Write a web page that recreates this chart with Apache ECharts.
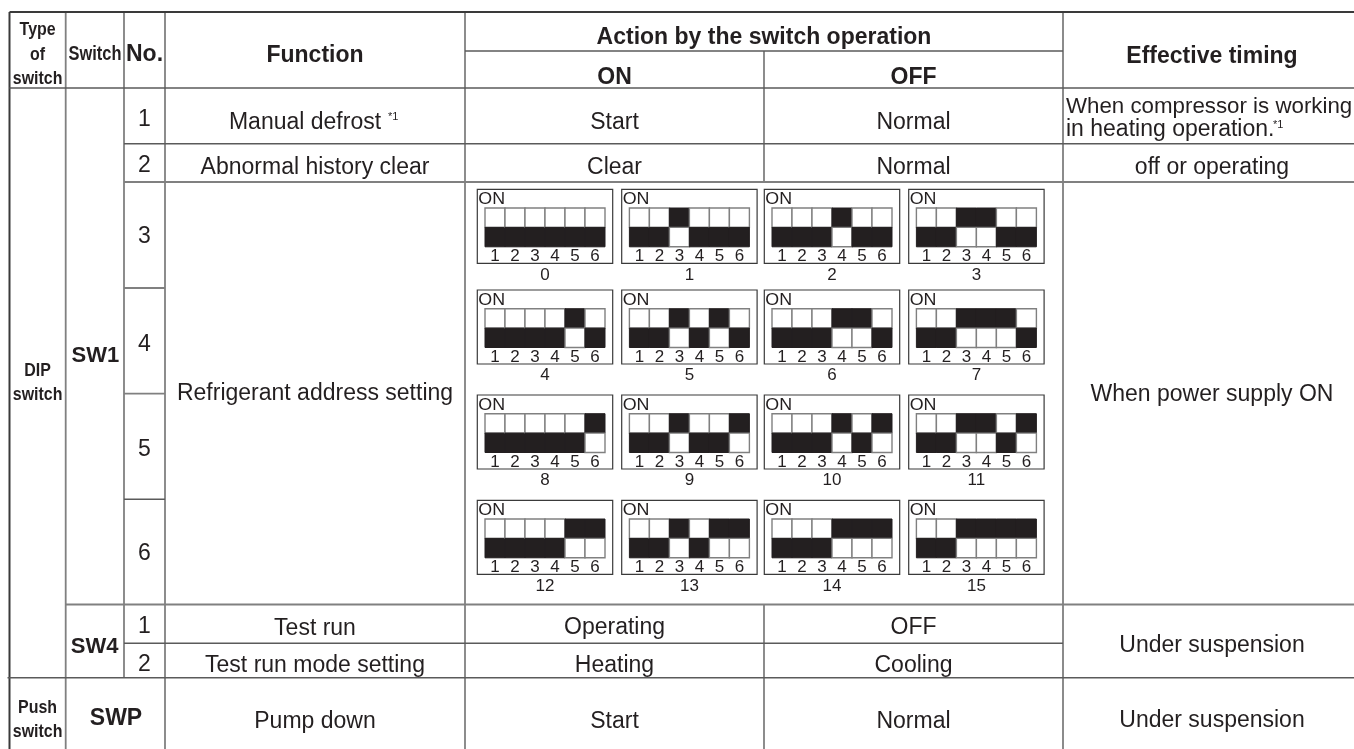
<!DOCTYPE html>
<html>
<head>
<meta charset="utf-8">
<title>Switch table</title>
<script src="https://cdn.jsdelivr.net/npm/echarts@6/dist/echarts.min.js"></script>
<style>
  html, body { margin: 0; padding: 0; background: #fff; }
  #chart { width: 1354px; height: 749px; }
</style>
</head>
<body>
<div id="chart"></div>
<script>
// table content
const typeOfSwitchHead = ['Type', 'of', 'switch']
const dipTypeLabel = ['DIP', 'switch']
const pushTypeLabel = ['Push', 'switch']
const switchNames = ['SW1', 'SW4', 'SWP']
const switchNumbers = ['1', '2', '3', '4', '5', '6', '1', '2']
const functionLabels = ['Manual defrost', 'Abnormal history clear', 'Refrigerant address setting', 'Test run', 'Test run mode setting', 'Pump down']
const onLabels = ['Start', 'Clear', 'Operating', 'Heating', 'Start']
const offLabels = ['Normal', 'Normal', 'OFF', 'Cooling', 'Normal']
const timingLabels = ['off or operating', 'When power supply ON', 'Under suspension', 'Under suspension']
const timingNote = ['When compressor is working', 'in heating operation.']
const footnoteMark = '*1'

// refrigerant address -> position of DIP switches 1..6 (1 = lever up)
const addressLabels = ['0', '1', '2', '3', '4', '5', '6', '7', '8', '9', '10', '11', '12', '13', '14', '15']
const addressSwitches = [
  [0, 0, 0, 0, 0, 0], [0, 0, 1, 0, 0, 0], [0, 0, 0, 1, 0, 0], [0, 0, 1, 1, 0, 0],
  [0, 0, 0, 0, 1, 0], [0, 0, 1, 0, 1, 0], [0, 0, 0, 1, 1, 0], [0, 0, 1, 1, 1, 0],
  [0, 0, 0, 0, 0, 1], [0, 0, 1, 0, 0, 1], [0, 0, 0, 1, 0, 1], [0, 0, 1, 1, 0, 1],
  [0, 0, 0, 0, 1, 1], [0, 0, 1, 0, 1, 1], [0, 0, 0, 1, 1, 1], [0, 0, 1, 1, 1, 1]
]
const switchDigits = ['1', '2', '3', '4', '5', '6']

// table grid, in axis units
const X = {left: 9.5, type: 65.7, sw: 124, no: 165, fn: 465, on: 764, off: 1063, right: 1354, timing: 1212}
const Y = {top: 12, sub: 51, head: 88, r1: 143.7, r2: 182, r3: 288, r4: 393.7, r5: 499.3, r6: 604.5, r7: 643.3, r8: 677.7, bottom: 749}
const boxLeft = [477.3, 621.7, 764.3, 908.7]
const boxTop = [189.3, 290, 395, 500.3]

const INK = '#231f20'
const FONT = '"Liberation Sans", Arial, sans-serif'
const TEXT_SHIFT = 1.5
const LINE_DARK = {stroke: '#3a3a3a', lineWidth: 2}
const LINE_MID = {stroke: '#5a5a5a', lineWidth: 1.4}
const LINE_GREY = {stroke: '#808080', lineWidth: 1.8}

const rules = [
  [X.left, Y.top, X.left, Y.bottom, LINE_DARK],
  [X.type, Y.top, X.type, Y.bottom, LINE_GREY],
  [X.sw, Y.top, X.sw, Y.r8, LINE_GREY],
  [X.no, Y.top, X.no, Y.bottom, LINE_GREY],
  [X.fn, Y.top, X.fn, Y.bottom, LINE_GREY],
  [X.on, Y.sub, X.on, Y.r2, LINE_GREY],
  [X.on, Y.r6, X.on, Y.bottom, LINE_GREY],
  [X.off, Y.top, X.off, Y.bottom, LINE_MID],
  [X.left, Y.top, X.right, Y.top, LINE_DARK],
  [X.fn, Y.sub, X.off, Y.sub, LINE_MID],
  [X.left, Y.head, X.right, Y.head, LINE_MID],
  [X.sw, Y.r1, X.right, Y.r1, LINE_MID],
  [X.sw, Y.r2, X.right, Y.r2, LINE_GREY],
  [X.sw, Y.r3, X.no, Y.r3, LINE_GREY],
  [X.sw, Y.r4, X.no, Y.r4, LINE_GREY],
  [X.sw, Y.r5, X.no, Y.r5, LINE_MID],
  [X.type, Y.r6, X.right, Y.r6, LINE_GREY],
  [X.sw, Y.r7, X.off, Y.r7, LINE_MID],
  [X.left - 2, Y.r8, X.right, Y.r8, LINE_MID]
]

// font, scaleX
const BODY = ['23px ' + FONT, 1]
const HEAD = ['bold 23px ' + FONT, 1]
const NARROW = ['bold 19px ' + FONT, 0.84]
const NARROW_SW = ['bold 20px ' + FONT, 0.82]
const SW = ['bold 22px ' + FONT, 1]
const NOTE = ['11px ' + FONT, 1]
const WRAP = ['22.3px ' + FONT, 1]

const cx1 = (X.left + X.type) / 2
const cxNo = (X.sw + X.no) / 2
const cxFn = (X.no + X.fn) / 2
const cxOn = (X.fn + X.on) / 2
const cxOff = (X.on + X.off) / 2

// x, y, text, font, align
const texts = [
  [cx1, 28.5, typeOfSwitchHead[0], NARROW], [cx1, 53.5, typeOfSwitchHead[1], NARROW], [cx1, 77, typeOfSwitchHead[2], NARROW],
  [95, 53, 'Switch', NARROW_SW],
  [cxNo, 53, 'No.', HEAD],
  [cxFn, 54, 'Function', HEAD],
  [(X.fn + X.off) / 2, 36.5, 'Action by the switch operation', HEAD],
  [cxOn, 76, 'ON', HEAD],
  [cxOff, 76, 'OFF', HEAD],
  [X.timing, 55, 'Effective timing', HEAD],
  [cx1, 369, dipTypeLabel[0], NARROW], [cx1, 393.5, dipTypeLabel[1], NARROW],
  [cx1, 706.5, pushTypeLabel[0], NARROW], [cx1, 730.5, pushTypeLabel[1], NARROW],
  [95.3, 354, switchNames[0], SW],
  [94.7, 645, switchNames[1], SW],
  [116, 717, switchNames[2], HEAD],
  [cxNo, 118, switchNumbers[0], BODY], [cxNo, 164, switchNumbers[1], BODY],
  [cxNo, 235, switchNumbers[2], BODY], [cxNo, 342.7, switchNumbers[3], BODY],
  [cxNo, 448.3, switchNumbers[4], BODY], [cxNo, 551.7, switchNumbers[5], BODY],
  [cxNo, 625, switchNumbers[6], BODY], [cxNo, 662.7, switchNumbers[7], BODY],
  [305, 121, functionLabels[0], BODY],
  [388, 115, footnoteMark, NOTE, 'left'],
  [cxFn, 166, functionLabels[1], BODY],
  [cxFn, 392, functionLabels[2], BODY],
  [cxFn, 627, functionLabels[3], BODY],
  [cxFn, 664, functionLabels[4], BODY],
  [cxFn, 720, functionLabels[5], BODY],
  [cxOn, 121, onLabels[0], BODY], [cxOff, 121, offLabels[0], BODY],
  [cxOn, 166, onLabels[1], BODY], [cxOff, 166, offLabels[1], BODY],
  [cxOn, 626, onLabels[2], BODY], [cxOff, 626, offLabels[2], BODY],
  [cxOn, 664, onLabels[3], BODY], [cxOff, 664, offLabels[3], BODY],
  [cxOn, 720, onLabels[4], BODY], [cxOff, 720, offLabels[4], BODY],
  [X.off + 3, 105, timingNote[0], WRAP, 'left'],
  [X.off + 3, 128, timingNote[1], BODY, 'left'],
  [1273, 123.5, footnoteMark, NOTE, 'left'],
  [X.timing, 166, timingLabels[0], BODY],
  [X.timing, 393, timingLabels[1], BODY],
  [X.timing, 644, timingLabels[2], BODY],
  [X.timing, 719, timingLabels[3], BODY]
]

function renderRule (params, api) {
  const r = rules[params.dataIndex]
  const a = api.coord([r[0], r[1]])
  const b = api.coord([r[2], r[3]])
  return {
    type: 'line',
    shape: {x1: a[0], y1: a[1], x2: b[0], y2: b[1]},
    style: {stroke: r[4].stroke, lineWidth: r[4].lineWidth, fill: null}
  }
}

function renderText (params, api) {
  const t = texts[params.dataIndex]
  const p = api.coord([t[0], t[1] + TEXT_SHIFT])
  return {
    type: 'text',
    x: p[0],
    y: p[1],
    scaleX: t[3][1],
    style: {text: t[2], font: t[3][0], fill: INK, align: t[4] || 'center', verticalAlign: 'middle'}
  }
}

function dipText (x, y, text, scale, align) {
  return {
    type: 'text',
    x: x,
    y: y,
    scaleX: scale,
    style: {text: text, font: '17px ' + FONT, fill: INK, align: align, verticalAlign: 'middle'}
  }
}

function renderDip (params, api) {
  const i = params.dataIndex
  const bx = boxLeft[i % 4]
  const by = boxTop[Math.floor(i / 4)]
  const o = api.coord([bx, by])
  const unit = api.coord([bx + 1, by + 1])
  const ux = unit[0] - o[0]
  const uy = unit[1] - o[1]
  const children = [{
    type: 'rect',
    shape: {x: o[0], y: o[1], width: 135.4 * ux, height: 74 * uy},
    style: {fill: '#fff', stroke: '#3a3a3a', lineWidth: 1.2}
  }]
  children.push(dipText(o[0] + 1 * ux, o[1] + 10 * uy, 'ON', 1.05, 'left'))
  const left = o[0] + 7.7 * ux
  const top = o[1] + 18.7 * uy
  const cellW = 20 * ux
  const cellH = 19.4 * uy
  addressSwitches[i].forEach(function (up, k) {
    const x = left + k * cellW
    const white = {fill: '#fff', stroke: '#808080', lineWidth: 1.4}
    const black = {fill: INK, stroke: INK, lineWidth: 1}
    children.push({
      type: 'rect',
      shape: {x: x, y: top, width: cellW, height: cellH},
      style: up ? black : white
    })
    children.push({
      type: 'rect',
      shape: {x: x, y: top + cellH, width: cellW, height: cellH},
      style: up ? white : black
    })
    children.push(dipText(x + cellW / 2, o[1] + 67 * uy, switchDigits[k], 1, 'center'))
  })
  children.push(dipText(o[0] + 67.7 * ux, o[1] + 85.7 * uy, addressLabels[i], 1, 'center'))
  return {type: 'group', children: children}
}

const chart = echarts.init(document.getElementById('chart'), null, {renderer: 'canvas'})
const option = {
  animation: false,
  backgroundColor: '#fff',
  grid: {left: 0, right: 0, top: 0, bottom: 0},
  xAxis: {type: 'value', min: 0, max: 1354, show: false},
  yAxis: {type: 'value', min: 0, max: 749, inverse: true, show: false},
  series: [
    {
      type: 'custom',
      silent: true,
      clip: false,
      renderItem: renderRule,
      encode: {x: 0, y: 1},
      data: rules.map(function (r) { return [r[0], r[1]] })
    },
    {
      type: 'custom',
      silent: true,
      clip: false,
      renderItem: renderDip,
      encode: {x: 0, y: 1},
      data: addressLabels.map(function (a, i) { return [boxLeft[i % 4], boxTop[Math.floor(i / 4)]] })
    },
    {
      type: 'custom',
      silent: true,
      clip: false,
      renderItem: renderText,
      encode: {x: 0, y: 1},
      data: texts.map(function (t) { return [t[0], t[1]] })
    }
  ]
}
chart.setOption(option, true)
</script>
</body>
</html>
